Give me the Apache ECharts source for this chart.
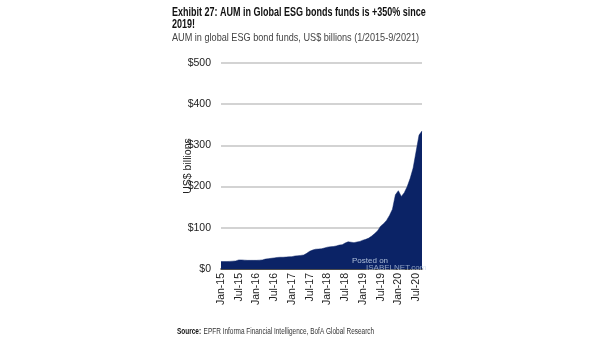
<!DOCTYPE html>
<html>
<head>
<meta charset="utf-8">
<script src="https://cdn.jsdelivr.net/npm/echarts@6/dist/echarts.min.js"></script>
<style>
html,body{margin:0;padding:0;background:#fff;}
#chart{width:605px;height:341px;}
</style>
</head>
<body>
<div id="chart"></div>
<script>
const years = ['15','16','17','18','19','20'];
const monthNames = ['Jan','Feb','Mar','Apr','May','Jun','Jul','Aug','Sep','Oct','Nov','Dec'];
const categories = [];
for (const y of years) { for (const m of monthNames) { categories.push(m + '-' + y); } }
categories.length = 69; // Jan-15 .. Sep-20

const aumValues = [
  18, 18, 18, 18.5, 19, 19.5,
  22, 22, 21.5, 21, 21, 21, 21,
  21.5, 22, 24, 25, 26, 27,
  28, 28.5, 28.5, 29, 29.5, 30,
  31.5, 32, 33, 34, 38, 43,
  46, 48, 48.5, 49, 51, 53,
  54, 54.5, 56, 58, 59, 63,
  66, 65, 64, 65.5, 67, 70,
  72, 75, 80, 86, 93, 104,
  110, 118, 130, 145, 180, 190,
  176, 185, 200, 220, 245, 285, 325, 335
];

const yTicks = [0, 100, 200, 300, 400, 500];

const titleLines = ['Exhibit 27: AUM in Global ESG bonds funds is +350% since', '2019!'];
const subtitleText = 'AUM in global ESG bond funds, US$ billions (1/2015-9/2021)';
const sourceLabel = 'Source:';
const sourceText = 'EPFR Informa Financial Intelligence, BofA Global Research';

const FONT = "'Liberation Sans', Arial, sans-serif";

const chart = echarts.init(document.getElementById('chart'));
chart.setOption({
  animation: false,
  backgroundColor: '#ffffff',
  grid: { left: 221, right: 183, top: 63, bottom: 72, containLabel: false },
  xAxis: {
    type: 'category',
    data: categories,
    boundaryGap: false,
    axisLine: { show: true, lineStyle: { color: '#222', width: 1.5 } },
    axisTick: { show: false },
    axisLabel: {
      interval: 5,
      rotate: 90,
      fontFamily: FONT,
      fontSize: 10.5,
      color: '#222',
      margin: 4
    },
    splitLine: { show: false }
  },
  yAxis: {
    type: 'value',
    min: 0,
    max: 500,
    interval: 100,
    name: 'US$ billions',
    nameLocation: 'middle',
    nameGap: 27,
    nameRotate: 90,
    nameMoveOverlap: false,
    nameTextStyle: { fontFamily: FONT, fontSize: 10.5, color: '#222' },
    axisLine: { show: false },
    axisTick: { show: false },
    axisLabel: {
      fontFamily: FONT,
      fontSize: 10.5,
      color: '#222',
      margin: 10,
      formatter: v => yTicks.includes(v) ? '$' + v : ''
    },
    splitLine: { show: true, lineStyle: { color: '#c4c4c4', width: 1.5 } }
  },
  series: [{
    type: 'line',
    data: aumValues,
    symbol: 'none',
    smooth: false,
    lineStyle: { width: 0.5, color: '#0b2366' },
    areaStyle: { color: '#0b2366', opacity: 1 },
    z: 1
  }],
  graphic: [
    {
      type: 'text', x: 172, y: 6, scaleX: 0.75,
      style: { text: titleLines.join('\n'), font: "bold 12px " + FONT, lineHeight: 12.5, fill: '#111' }
    },
    {
      type: 'text', x: 172, y: 32, scaleX: 0.83,
      style: { text: subtitleText, font: "11px " + FONT, fill: '#444' }
    },
    {
      type: 'text', x: 352, y: 257,
      style: { text: 'Posted on', font: "8px " + FONT, fill: 'rgba(200,215,235,0.85)' }, z: 10
    },
    {
      type: 'text', x: 366, y: 264,
      style: { text: 'ISABELNET.com', font: "8px " + FONT, fill: 'rgba(200,215,235,0.7)' }, z: 10
    },
    {
      type: 'text', x: 177, y: 326, scaleX: 0.76,
      style: {
        rich: {
          b: { fontFamily: FONT, fontWeight: 'bold', fontSize: 8.5, fill: '#111' },
          r: { fontFamily: FONT, fontSize: 8.5, fill: '#333' }
        },
        text: '{b|' + sourceLabel + '} {r|' + sourceText + '}'
      }
    }
  ]
});
</script>
</body>
</html>
